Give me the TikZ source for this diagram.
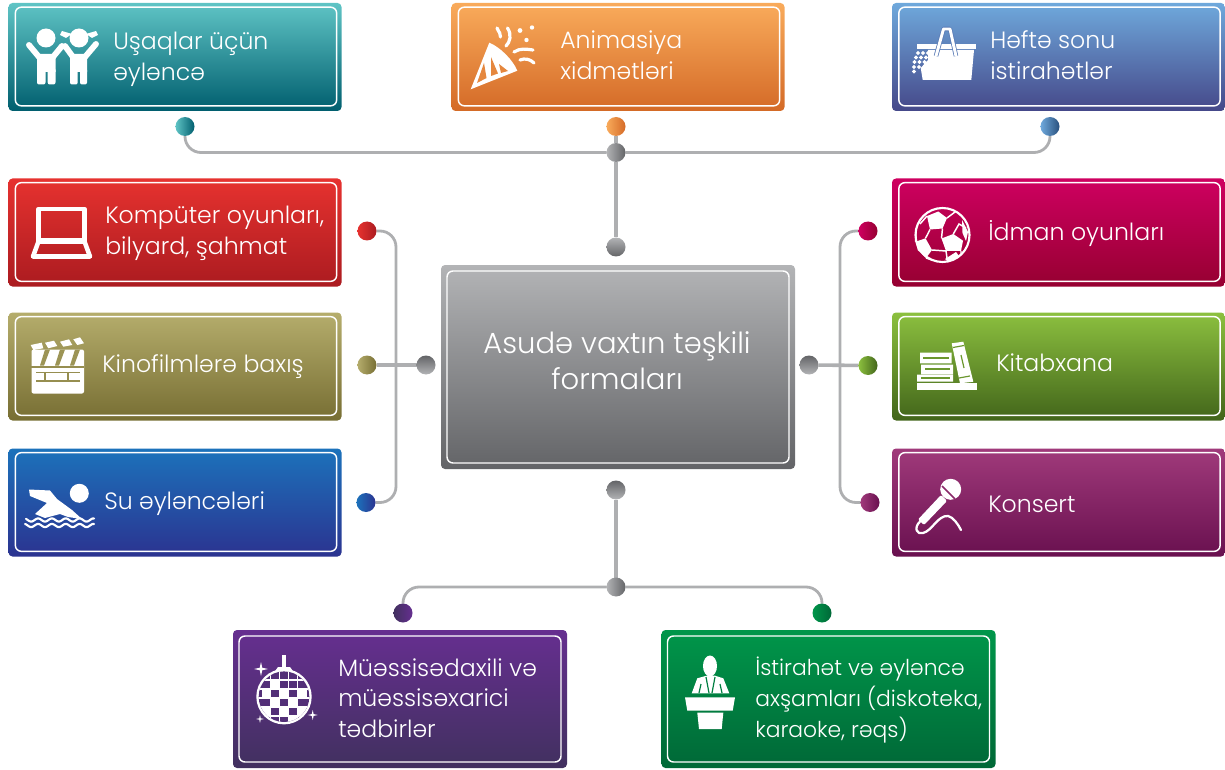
\documentclass[tikz,border=0pt]{standalone}
\usepackage{fontspec}
\setmainfont{Poppins}[UprightFont=* Light]
\usetikzlibrary{backgrounds}

\definecolor{tealA}{HTML}{5FC4C5}\definecolor{tealB}{HTML}{005E6E}
\definecolor{orangeA}{HTML}{F9AB5B}\definecolor{orangeB}{HTML}{D46A27}
\definecolor{skyA}{HTML}{6FA9DC}\definecolor{skyB}{HTML}{454889}
\definecolor{redA}{HTML}{E6322F}\definecolor{redB}{HTML}{AB1B20}
\definecolor{oliveA}{HTML}{B5AD6C}\definecolor{oliveB}{HTML}{776E33}
\definecolor{seaA}{HTML}{1C72BB}\definecolor{seaB}{HTML}{2B3390}
\definecolor{crimsonA}{HTML}{CE0060}\definecolor{crimsonB}{HTML}{960031}
\definecolor{grassA}{HTML}{8CC03F}\definecolor{grassB}{HTML}{42651A}
\definecolor{plumA}{HTML}{A03A7B}\definecolor{plumB}{HTML}{69104F}
\definecolor{violetA}{HTML}{662F90}\definecolor{violetB}{HTML}{41305F}
\definecolor{emeraldA}{HTML}{00964A}\definecolor{emeraldB}{HTML}{006837}
\definecolor{steelA}{HTML}{B3B4B6}\definecolor{steelB}{HTML}{636467}
\definecolor{wirecol}{HTML}{AEAFB1}

\tikzset{
  tile/.style 2 args={rounded corners=3pt, top color=#1, bottom color=#2,
    minimum width=249.75pt, minimum height=81pt, inner sep=0pt, outer sep=0pt},
  frame/.style={draw=white, line width=1.1pt, rounded corners=4.5pt,
    minimum width=241pt, minimum height=74pt, inner sep=0pt, outer sep=0pt},
  label/.style={text=white, anchor=west, align=left, inner sep=0pt,
    font=\fontsize{17.7}{23}\selectfont},
  dot/.style 2 args={circle, left color=#1, right color=#2,
    minimum size=14.25pt, inner sep=0pt, outer sep=0pt},
  hub/.style 2 args={circle, top color=#1, bottom color=#2,
    minimum size=14.25pt, inner sep=0pt, outer sep=0pt},
  wire/.style={draw=wirecol, line width=2.1pt, rounded corners=12pt},
  stem/.style={draw=wirecol, line width=2.7pt},
  inkline/.style={draw=white, line cap=round, line join=round},
}

\newcommand{\sparkle}[3]{\fill[white] ({#1-#3},#2) -- ({#1-.18*#3},{#2-.18*#3}) -- (#1,{#2-#3})
  -- ({#1+.18*#3},{#2-.18*#3}) -- ({#1+#3},#2) -- ({#1+.18*#3},{#2+.18*#3}) -- (#1,{#2+#3})
  -- ({#1-.18*#3},{#2+.18*#3}) -- cycle;}

\begin{document}
\begin{tikzpicture}[x=0.75pt,y=-0.75pt]
\useasboundingbox (0,0) rectangle (1225,770);

% tiles with their frames and texts
\foreach \name/\cx/\cy/\ca/\cb/\tx/\ty/\txt in {
  Kids/175/57/teal/teal/113/59.5/{Uşaqlar üçün\\əyləncə},
  Party/618/57/orange/orange/560/55/{Animasiya\\xidmətləri},
  Weekend/1058.5/57/sky/sky/990/55/{Həftə sonu\\istirahətlər},
  Games/175/232.5/red/red/105/233/{Kompüter oyunları,\\bilyard, şahmat},
  Film/175/366.5/olive/olive/102/367/{Kinofilmlərə baxış},
  Swim/175/502.5/sea/sea/104/503.5/{Su əyləncələri},
  Sport/1058.5/232.5/crimson/crimson/988/234/{İdman oyunları},
  Books/1058.5/366.5/grass/grass/996/363/{Kitabxana},
  Music/1058.5/502.5/plum/plum/988/504/{Konsert}} {
  \node[tile={\ca A}{\cb B}] (tile\name) at (\cx,\cy) {};
  \node[frame] (frame\name) at (\cx+1,\cy-0.5) {};
  \node[label] (lbl\name) at (\tx,\ty) {\txt};
}
\node[tile={violetA}{violetB}, minimum width=250.5pt, minimum height=103.5pt] (tileDisco) at (400,699) {};
\node[frame, minimum width=241.5pt, minimum height=94.5pt] (frameDisco) at (400,699) {};
\node[label] (lblDisco) at (338,698) {Müəssisədaxili və\\müəssisəxarici\\tədbirlər};
\node[tile={emeraldA}{emeraldB}, minimum width=250.5pt, minimum height=103.5pt] (tileEvening) at (828.5,699) {};
\node[frame, minimum width=241.5pt, minimum height=94.5pt] (frameEvening) at (828.5,699) {};
\node[label, font=\fontsize{16.4}{23}\selectfont] (lblEvening) at (755,700) {İstirahət və əyləncə\\axşamları (diskoteka,\\karaoke, rəqs)};

% centre
\node[tile={steelA}{steelB}, minimum width=265.5pt, minimum height=153pt] (tileMain) at (618,367) {};
\node[frame, minimum width=256.5pt, minimum height=144pt] (frameMain) at (618,367) {};
\node[text=white, align=center, inner sep=0pt, font=\fontsize{21.8}{27}\selectfont] (lblMain) at (617,361) {Asudə vaxtın təşkili\\formaları};

% dots at the tiles
\foreach \name/\x/\y/\ca/\cb in {
  Kids/185/126.5/tealA/tealB, Party/616/126.5/orangeA/orangeB, Weekend/1050/126.5/skyA/skyB!60!tealB,
  Games/367/231/redA/redB, Film/367/365/oliveA/oliveB, Swim/366/502.5/seaA/seaB,
  Sport/868/231/crimsonA/crimsonB, Books/868/365.5/grassA/grassB, Music/870/502.5/plumA/plumB,
  Disco/403/613/violetB/violetA, Evening/822/613/emeraldA/emeraldB}
  \node[dot={\ca}{\cb}] (dot\name) at (\x,\y) {};

% grey hubs
\node[hub={steelA}{steelB}, left color=steelA, right color=steelB] (hubUp) at (616,152.5) {};
\node[hub={steelA}{steelB}] (hubMainUp) at (616,247) {};
\node[hub={steelB}{steelA}] (hubMainLeft) at (426,365) {};
\node[hub={steelB}{steelA}] (hubMainRight) at (809,365) {};
\node[hub={steelB}{steelA}] (hubMainDown) at (616,490) {};
\node[hub={steelA}{steelB}, left color=steelA, right color=steelB] (hubDown) at (616,587) {};

\coordinate (busLeft) at (396,365);
\coordinate (busRight) at (840,365);

% connectors
\begin{scope}[on background layer]
  \draw[wire] (dotKids) |- (hubUp) -| (dotWeekend);
  \draw[stem] (dotParty) -- (hubUp) -- (hubMainUp);
  \draw[wire] (dotGames) -| (busLeft) |- (dotSwim);
  \draw[stem] (dotFilm) -- (hubMainLeft);
  \draw[wire] (dotSport) -| (busRight) |- (dotMusic);
  \draw[stem] (hubMainRight) -- (dotBooks);
  \draw[stem] (hubMainDown) -- (hubDown);
  \draw[wire] (dotDisco) |- (hubDown) -| (dotEvening);
\end{scope}

% children
\fill[white] (46,38) circle (9.5) (79,38) circle (9.5);
\fill[white] (72,34) -- (62,31) -- (60,35) -- (66,38) -- cycle (86,34) -- (96,31) -- (98,35) -- (92,38) -- cycle;
\draw[inkline, line width=4.4pt] (29,45) -- (39,57) -- (53,57) -- (62,46) (65,46) -- (73,57) -- (85,57) -- (96,44);
\fill[white] (37,54) rectangle (55.5,72) (70,54) rectangle (87,72);
\fill[white, rounded corners=1.5pt] (37,68) rectangle (45.5,84.5) (47.7,68) rectangle (55.5,84.5)
  (70,68) rectangle (77.7,84.5) (80,68) rectangle (87,84.5);

% party popper
\fill[white] (470.7,89.3) -- (489.3,42.7) .. controls (500,47) and (513,60) .. (517.3,70.7) -- cycle;
\fill[orangeA!45!orangeB] (477,83) -- (484,63) -- (486.5,78) -- cycle (491,57) -- (491,76) -- (498,73.5) -- cycle (499,64) -- (508,71) -- (501,73) -- cycle;
\draw[inkline, line width=2.4pt] (497,28) .. controls (499,33) and (501,33) .. (500.5,37)
  (507.5,28) .. controls (512,35) and (510,42) .. (506,46)
  (514,52) .. controls (520,48) and (526,49) .. (533,50)
  (520,60) .. controls (525,58) and (530,59) .. (534,63);
\fill[white] (520,30.5) circle (2.4) (526.5,40) circle (2.2) (532,27.5) circle (2.2);

% basket
\fill[white] (928,50) -- (974,50) -- (971.3,80) -- (922.7,80) -- (920.7,68) -- (928,60) -- cycle;
\fill[white] (917.3,44) rectangle (975.7,48.7);
\foreach \x/\y in {918/53,923/53,928/53,916/57.5,921/57.5,926/57.5,914.5/62,919.5/62,924.5/62,914/67,919/67,914/71.5}
  \fill[white] ({\x-2.2},\y) -- (\x,{\y-2.2}) -- ({\x+2.2},\y) -- (\x,{\y+2.2}) -- cycle;
\draw[skyA!55!skyB, line width=3.4pt, line join=round] (936,56) -- (943.5,29) -- (950,29) -- (956,56);
\draw[white, line width=2.2pt, line join=round] (936,56) -- (943.5,29) -- (950,29) -- (956,56);

% laptop
\draw[inkline, line width=3.4pt] (38.5,209) rectangle (84.5,241.5);
\draw[inkline, line width=3.4pt] (38.5,241.5) -- (33,256.5) -- (90,256.5) -- (84.5,241.5);
\fill[white] (38.5,238) rectangle (84.5,243);

% soccer ball
\draw[white, line width=1.6pt] (942.5,235) circle (27);
\fill[white] (927,216) -- (938.3,211.5) -- (947,218) -- (942.5,228.5) -- (930,229.5) -- cycle
  (941.5,238.5) -- (953.3,234) -- (963,240.7) -- (961,251) -- (946,251) -- cycle
  (915.7,241.7) -- (925.5,238.3) -- (932,250) -- (926,258) -- (917.7,250) -- cycle
  (962,220) -- (968,232) -- (966,241) -- (962.5,233) -- cycle
  (945,259) -- (956,252) -- (959,256) -- (948,262) -- cycle;
\draw[white, line width=1.1pt] (930,229.5) -- (925.5,238.3) (942.5,228.5) -- (941.5,238.5)
  (947,218) -- (955,212) (953.3,234) -- (959,224) -- (966,228)
  (932,250) -- (946,251) (920,224) -- (927,216) (915.7,241.7) -- (916,228)
  (926,258) -- (932,260) (946,251) -- (947,258) (961,251) -- (961,255);

% film clapper
\fill[white, rounded corners=1.5pt] (31.5,349.5) rectangle (84,393.5);
\foreach \x in {40,55,70}
  \fill[oliveA!60!oliveB] ({\x+5},349.5) -- ({\x+10},349.5) -- ({\x+4},365.5) -- (\x,365.5) -- cycle;
\draw[oliveA!50!oliveB, line width=1pt] (31,367) -- (84,367) (36,372.5) -- (80,372.5) (36,381) -- (80,381) (45,372.5) -- (45,381) (68,372.5) -- (68,381);
\fill[white] (30.7,345) -- (41.7,342.7) -- (43.3,348.3) -- (33.3,350) -- cycle
  (45,342.7) -- (54,340.7) -- (57.3,346) -- (48.3,348.3) -- cycle
  (60,341.7) -- (69,339.3) -- (72.3,345) -- (63.3,346.7) -- cycle
  (73.3,339.3) -- (80,337.3) -- (84,343.3) -- (77.3,345) -- cycle;

% books
\fill[white] (916.7,383.3) rectangle (977.3,390);
\fill[white] (920,352.7) rectangle (951.7,363.3) (921,364.5) rectangle (953,374) (917,374.5) rectangle (953,381.7);
\draw[grassA!55!grassB, line width=0.9pt] (923,358) -- (949,358)
  (925,369) -- (950,369) (921,378) -- (950,378);
\fill[white] (951.7,343.3) -- (963.3,341.7) -- (973.3,381.7) -- (960,383.3) -- cycle;
\draw[grassA!55!grassB, line width=0.9pt] (961,355) -- (964,368) (953,347.5) -- (964,345.5) (959,378) -- (970,376);

% swimmer
\fill[white] (79.3,493.3) circle (9.5);
\fill[white] (29,489.5) -- (50,490.5) -- (57,499) -- (72,510) -- (82,519) -- (68,517) -- (60,514) -- (45,518) -- (35,514) -- (47,503) -- (30,496) -- cycle;
\draw[inkline, line width=1.6pt] plot[domain=26:94, samples=70] (\x,{520+1.6*sin(\x*26)});
\draw[inkline, line width=1.6pt] plot[domain=25:94, samples=70] (\x,{525.5+1.6*sin(\x*26)});

% microphone
\fill[white] (950.7,489.3) circle (10.5);
\fill[white, rounded corners=1pt] (941,495) -- (947,501) -- (924,525) -- (918,519.5) -- cycle;
\draw[plumA!60!plumB, line width=1.2pt] (942,486) -- (955,499);
\draw[inkline, line width=1.7pt] (920.5,521) .. controls (913,528) and (917,535) .. (923,533) .. controls (932,531) and (938,515) .. (948,516) .. controls (953,517) and (958,524) .. (961,530);

% disco ball
\fill[white] (281.7,655) rectangle (285.7,668);
\fill[white] (278,667) -- (290,667) -- (295,674) -- (273,674) -- cycle;
\fill[white] (284,696.7) circle (27.7);
\begin{scope}
  \clip (284,696.7) circle (25.3);
  \fill[violetA!50!violetB] (255,668) rectangle (313,725);
  \draw[white, line width=1pt] (270.5,665) -- (270.5,728) (279.5,665) -- (279.5,728) (288.5,665) -- (288.5,728) (297.5,665) -- (297.5,728)
    (255,680) -- (313,680) (255,689) -- (313,689) (255,698) -- (313,698) (255,707) -- (313,707) (255,716) -- (313,716);
  \foreach \i/\j in {261.5/689,270.5/698,279.5/689,279.5/707,288.5/698,297.5/689,297.5/707,270.5/680,288.5/716,261.5/707}
    \fill[white] (\i,\j) rectangle ++(9,9);
\end{scope}
\sparkle{261}{669}{7}
\sparkle{312.7}{715}{5}
\sparkle{260}{719}{4}

% speaker
\fill[white] (710,666) ellipse (7 and 10.5);
\fill[white] (691.7,693.3) -- (697.3,678.3) -- (706.7,675.7) -- (715,675.7) -- (723.3,678.3) -- (729.3,693.3) -- cycle;
\draw[emeraldA!50!emeraldB, line width=0.9pt] (706,677) -- (709,693) (715,677) -- (712,693) (699,693) -- (701,684) (722,693) -- (720,684);
\fill[white] (685,697.3) -- (735,697.3) -- (732.7,710.7) -- (687.3,710.7) -- cycle;
\fill[white] (697.3,712.7) -- (723.3,712.7) -- (721.7,729) -- (699,729) -- cycle;

\end{tikzpicture}
\end{document}
